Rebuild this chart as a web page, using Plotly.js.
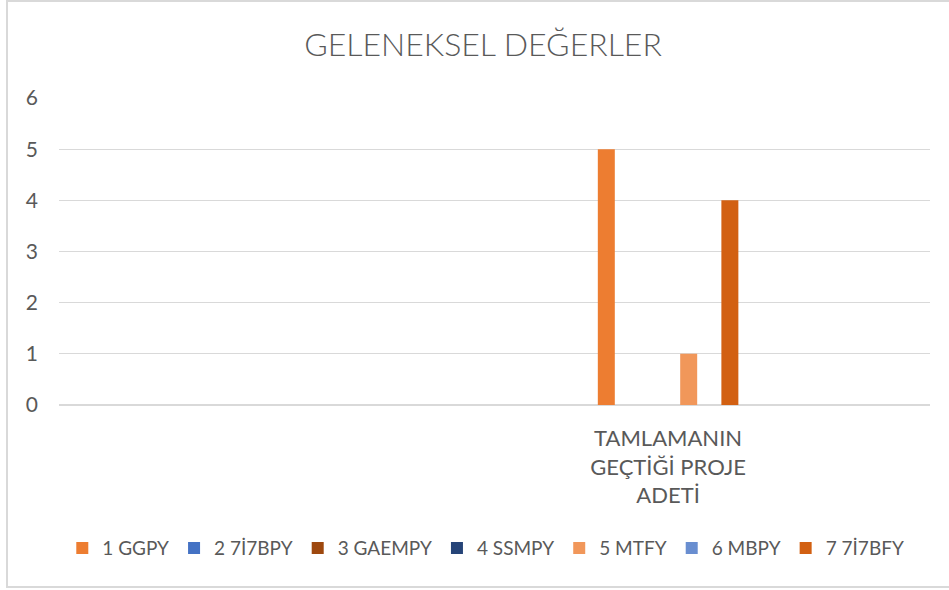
<!DOCTYPE html>
<html>
<head>
<meta charset="utf-8">
<script src="https://cdn.plot.ly/plotly-3.0.1.min.js"></script>
<style>html,body{margin:0;padding:0;background:#fff;}#chart{width:949px;height:590px;}</style>
</head>
<body>
<div id="chart"></div>
<script>
const categories = ["TAMLAMANIN<br>GEÇTİĞİ PROJE<br>ADETİ"];
const seriesNames = ["1 GGPY", "2 7İ7BPY", "3 GAEMPY", "4 SSMPY", "5 MTFY", "6 MBPY", "7 7İ7BFY"];
const seriesValues = [[5], [0], [0], [0], [1], [0], [4]];
const seriesColors = ["#ED7D31", "#4472C4", "#9E480E", "#264478", "#F1975A", "#698ED0", "#D26012"];
const yTicks = [0, 1, 2, 3, 4, 5, 6];

const FONT = "Lato, 'Open Sans', sans-serif";
const TXT = "#595959";

const traces = seriesNames.map((n, i) => ({
  type: "bar",
  name: n,
  x: categories,
  y: seriesValues[i],
  marker: {color: seriesColors[i]},
  hoverinfo: "none"
}));

const layout = {
  width: 949, height: 590,
  margin: {l: 59, r: 19, t: 98, b: 185},
  paper_bgcolor: "#fff", plot_bgcolor: "#fff",
  font: {family: FONT, color: TXT},
  title: {text: "GELENEKSEL DEĞERLER", font: {family: FONT, size: 32, color: TXT, weight: 300},
          xref: "container", yref: "container", x: 0.509, y: 0.924, xanchor: "center", yanchor: "middle"},
  barmode: "group",
  bargap: 0.645,
  bargroupgap: 0.175,
  showlegend: true,
  legend: {orientation: "h", x: 0.49, xanchor: "center", y: -0.466, yanchor: "middle",
           font: {family: FONT, size: 19, color: TXT}, itemclick: false, traceorder: "normal"},
  xaxis: {type: "category", range: [-1.5, 0.645], showgrid: false, zeroline: false, showline: false,
          ticks: "", tickfont: {family: FONT, size: 22, color: TXT}, fixedrange: true, ticklabelstandoff: 18},
  yaxis: {range: [0, 6], tickvals: yTicks, showgrid: true, gridcolor: "#d9d9d9", gridwidth: 1.3,
          zeroline: true, zerolinecolor: "#d9d9d9", zerolinewidth: 1.5, showline: false, ticks: "",
          tickfont: {family: FONT, size: 21, color: TXT}, ticklabelstandoff: 20, fixedrange: true},
  shapes: [{type: "rect", xref: "paper", yref: "paper", x0: -0.0597, x1: 1.03, y0: -0.593, y1: 1.316,
            line: {color: "#d9d9d9", width: 2}, fillcolor: "rgba(0,0,0,0)", layer: "below"}]
};

Plotly.newPlot("chart", traces, layout, {displayModeBar: false, staticPlot: true});
</script>
</body>
</html>
